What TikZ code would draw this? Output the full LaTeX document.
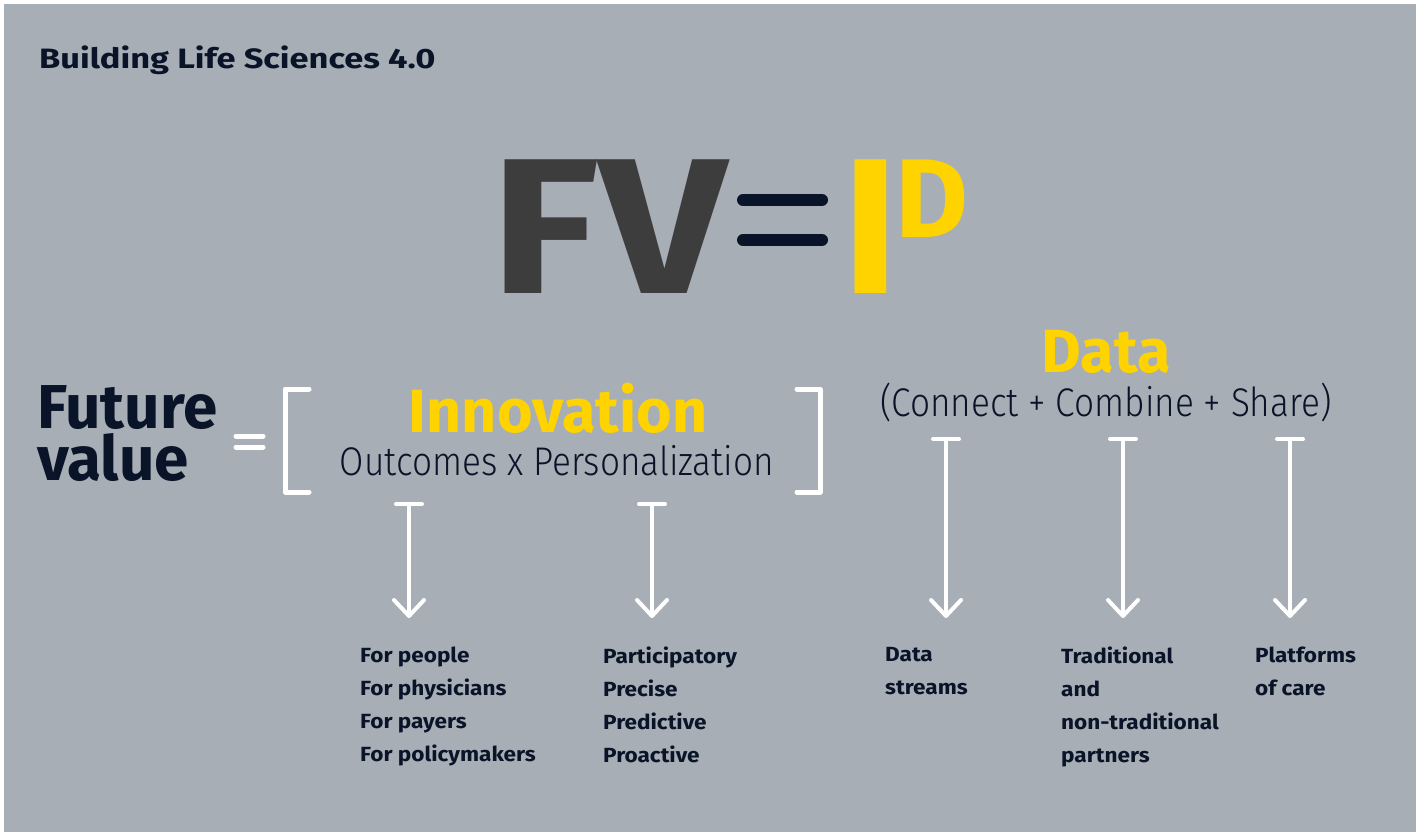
\documentclass[tikz,border=0pt]{standalone}
\usepackage{fontspec}
\setmainfont{Fira Sans}
\newfontfamily\lightfont{Fira Sans Light}[FakeStretch=0.88]
\newfontfamily\titlefont{Fira Sans}[FakeStretch=1.23]
\newfontfamily\bigfont{Fira Sans}[FakeStretch=1.16]
\newfontfamily\itemfont{Fira Sans}[FakeStretch=1.1]
\usetikzlibrary{arrows.meta}
\definecolor{slate}{HTML}{A8AEB5}
\definecolor{navy}{HTML}{0A1428}
\definecolor{ink}{HTML}{3D3D3D}
\definecolor{eyyellow}{HTML}{FFD300}

\begin{document}
\begin{tikzpicture}[x=1pt,y=-1pt,
  every node/.style={inner sep=0pt, anchor=base west},
  head/.style={font=\fontsize{61}{61}\selectfont\bfseries, text=eyyellow, anchor=base},
  sub/.style={font=\lightfont\fontsize{40}{40}\selectfont, text=navy, anchor=base},
  item/.style={font=\itemfont\fontsize{20.5}{33}\selectfont\bfseries, text=navy, align=left, anchor=north west},
  flow/.style={white, line width=4pt, {Bar[width=26pt,line cap=round]}-{Straight Barb[width=30pt,length=16pt,line cap=round,line join=round]}},
  brk/.style={white, line width=5pt, line cap=round, line join=round},
  eqbar/.style={line cap=round}]

    \useasboundingbox (0,0) rectangle (1422,832);
    \fill[slate] (4,4) rectangle (1416,832);

    \node[font=\titlefont\fontsize{28}{28}\selectfont\bfseries, text=navy] (title) at (39,69) {Building Life Sciences 4.0};

    \node[font=\bigfont\fontsize{193}{193}\selectfont\bfseries, text=ink]      (fv) at (490,293) {FV};
    \node[font=\fontsize{193}{193}\selectfont\bfseries, text=eyyellow] (iv) at (842,293) {I};
    \node[font=\fontsize{112}{112}\selectfont\bfseries, text=eyyellow] (dv) at (895,237) {D};
    \draw[navy, line width=12pt, eqbar] (743,200) -- (822,200);
    \draw[navy, line width=12pt, eqbar] (743,240) -- (822,240);

    \node[font=\fontsize{62}{52}\selectfont\bfseries, text=navy, align=left, anchor=north west] (fval) at (37,385) {Future\\value};
    \draw[white, line width=5pt, eqbar] (236,436) -- (263,436);
    \draw[white, line width=5pt, eqbar] (236,447) -- (263,447);

    \draw[brk] (309,389) -- (285,389) -- (285,492) -- (309,492);
    \draw[brk] (797,389) -- (820,389) -- (820,492) -- (797,492);

    \node[head] (inno)  at (558,432)  {Innovation};
    \node[sub]  (outc)  at (557,475)  {Outcomes x Personalization};
    \node[head] (data)  at (1106,372) {Data};
    \node[sub]  (share) at (1106,416) {(Connect + Combine + Share)};

    \coordinate (a1) at (409,502);  \coordinate (b1) at (409,618);
    \coordinate (a2) at (652,502);  \coordinate (b2) at (652,618);
    \coordinate (a3) at (946,437);  \coordinate (b3) at (946,618);
    \coordinate (a4) at (1123,437); \coordinate (b4) at (1123,618);
    \coordinate (a5) at (1290,437); \coordinate (b5) at (1290,618);

    \draw[flow] (a1) -- (b1);
    \draw[flow] (a2) -- (b2);
    \draw[flow] (a3) -- (b3);
    \draw[flow] (a4) -- (b4);
    \draw[flow] (a5) -- (b5);

    \node[item] (who)   at (360,647)  {For people\\For physicians\\For payers\\For policymakers};
    \node[item] (how)   at (603,647)  {Participatory\\Precise\\Predictive\\Proactive};
    \node[item] (strm)  at (885,647)  {Data\\streams};
    \node[item] (part)  at (1061,647) {Traditional\\and\\non-traditional\\partners};
    \node[item] (plat)  at (1255,647) {Platforms\\of care};
  \end{tikzpicture}
\end{document}
